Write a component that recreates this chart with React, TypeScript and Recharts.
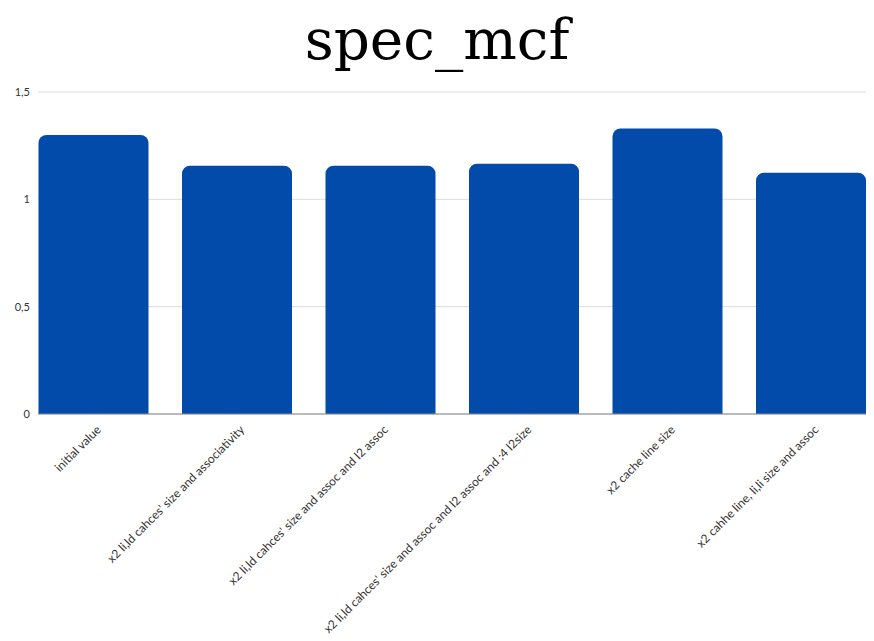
import React from "react";
import { BarChart, Bar, XAxis, YAxis, CartesianGrid } from "recharts";

const categories = [
  "initial value",
  "x2 li,ld cahces' size and associativity",
  "x2 li,ld cahces' size and assoc and l2 assoc",
  "x2 li,ld cahces' size and assoc and l2 assoc and :4 l2size",
  "x2 cache line size",
  "x2 cahhe line, li,li size and assoc",
];
const values = [1.3, 1.157, 1.157, 1.166, 1.33, 1.124];
const yTicks = [0, 0.5, 1, 1.5];
const title = "spec_mcf";

const data = categories.map((name, i) => ({ name, value: values[i] }));

const fmt = (v: number) => String(v).replace(".", ",");

function AngledTick(props: any) {
  const { x, y, payload } = props;
  return (
    <text
      x={x}
      y={y}
      dy={12}
      textAnchor="end"
      fontFamily="Lato"
      fontSize={12}
      fill="#333"
      transform={`rotate(-45, ${x}, ${y})`}
    >
      {payload.value}
    </text>
  );
}

export default function App() {
  return (
    <div style={{ position: "absolute", left: 0, top: 0, width: 874, height: 641, background: "#fff" }}>
      <div
        style={{
          position: "absolute",
          left: 0,
          top: 0,
          width: 874,
          textAlign: "center",
          fontFamily: "DejaVu Serif",
          fontSize: 56.5,
          lineHeight: "80px",
          color: "#000",
        }}
      >
        {title}
      </div>
      <BarChart
        width={874}
        height={641}
        data={data}
        margin={{ top: 92, right: 8, left: 0, bottom: 0 }}
        barSize={110}
      >
        <CartesianGrid vertical={false} stroke="#dcdcdc" />
        <XAxis
          dataKey="name"
          interval={0}
          height={227}
          padding={{ left: -16.5, right: -16.5 }}
          tick={<AngledTick />}
          tickLine={false}
          axisLine={{ stroke: "#888" }}
        />
        <YAxis
          width={38}
          domain={[0, 1.5]}
          ticks={yTicks}
          tickFormatter={fmt}
          tickLine={false}
          axisLine={false}
          tick={{ fontFamily: "Lato", fontSize: 11, fill: "#333" }}
          tickMargin={2}
        />
        <Bar dataKey="value" fill="#024bab" radius={[8, 8, 0, 0]} isAnimationActive={false} />
      </BarChart>
    </div>
  );
}
